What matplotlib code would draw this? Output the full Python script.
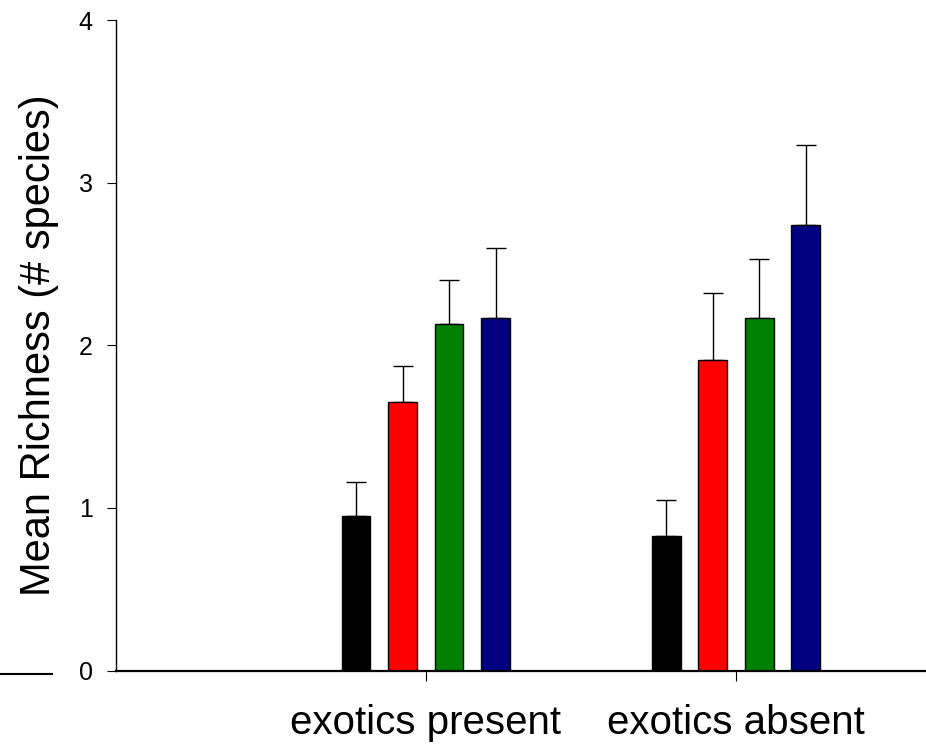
import numpy as np
import matplotlib.pyplot as plt
from matplotlib.lines import Line2D

plt.rcParams['font.family'] = ['Liberation Sans', 'DejaVu Sans']

# mean richness and upper standard errors, one value per treatment
groups = ["exotics present", "exotics absent"]
colors = ["black", "#ff0000", "#008000", "#000080"]
mean_present = [0.95, 1.65, 2.13, 2.17]
err_present = [0.21, 0.22, 0.27, 0.43]
mean_absent = [0.83, 1.91, 2.17, 2.74]
err_absent = [0.22, 0.41, 0.36, 0.49]

W, H = 926, 750
fig = plt.figure(figsize=(W/100, H/100), dpi=100)
ax = fig.add_axes([115.5/W, 1-670.5/H, (W-115.5)/W, (670.5-20)/H])

offsets = [-0.225, -0.075, 0.075, 0.225]
width = 0.093
xpos = np.array([1, 2])
means = np.array([mean_present, mean_absent])
errs = np.array([err_present, err_absent])

for k in range(4):
    x = xpos + offsets[k]
    ax.bar(x, means[:, k], width, color=colors[k], edgecolor="black", linewidth=1, zorder=2)
    ax.errorbar(x, means[:, k], yerr=[np.zeros(2), errs[:, k]], fmt="none",
                ecolor="black", elinewidth=1, capsize=7.2, capthick=1, zorder=1)

ax.set_xlim(0, 2.612)
ax.set_ylim(0, 4)
ax.set_yticks([0, 1, 2, 3, 4])
ax.set_xticks(xpos)
ax.set_xticklabels(groups, fontsize=29)
ax.tick_params(axis="y", labelsize=18, length=6.5, width=0.8, pad=10)
ax.tick_params(axis="x", length=7, width=0.8, pad=17)
ax.set_ylabel("Mean Richness (# species)", fontsize=30, labelpad=14)

ax.spines["top"].set_visible(False)
ax.spines["right"].set_visible(False)
ax.spines["left"].set_linewidth(1)
ax.spines["bottom"].set_linewidth(1.6)

# short stray line at the lower left
fig.add_artist(Line2D([0, 52/W], [1-674/H, 1-674/H], color="black", linewidth=1.5))

plt.savefig("out.png", dpi=100)
